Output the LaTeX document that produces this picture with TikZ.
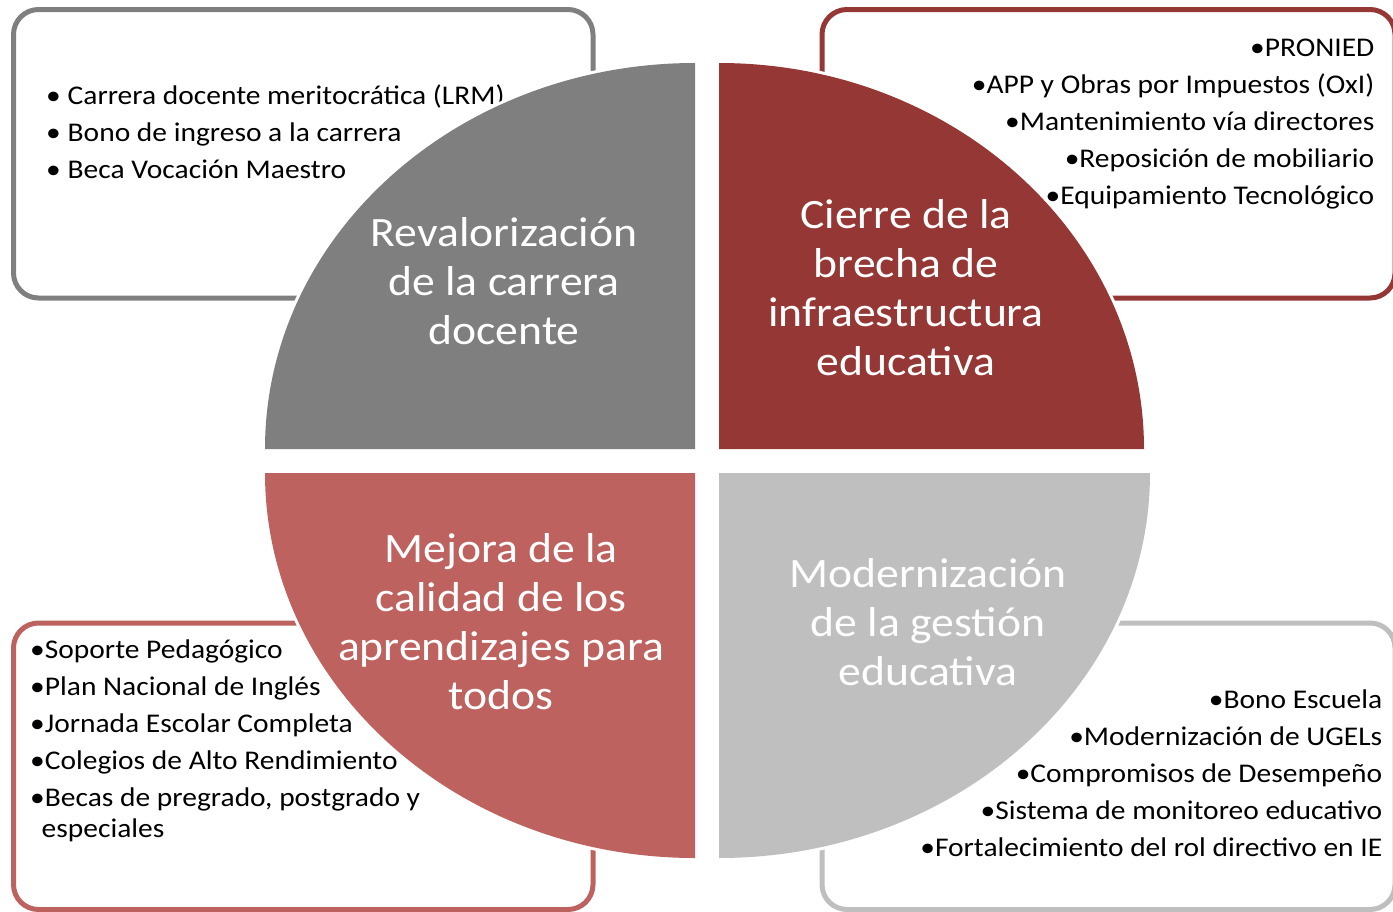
\documentclass[tikz,border=0pt]{standalone}
\usepackage{fontspec}
\setmainfont[FakeStretch=1.092]{Carlito}
\definecolor{cgray}{HTML}{7F7F7F}
\definecolor{cdred}{HTML}{953735}
\definecolor{clred}{HTML}{BE625F}
\definecolor{clgray}{HTML}{BFBFBF}
\begin{document}
\begin{tikzpicture}[x=1pt,y=-1pt,
  box/.style={draw, line width=5pt, rounded corners=25pt},
  halo/.style={fill=white, draw=white, line width=6pt},
  itemtext/.style={inner sep=0pt, font=\fontsize{27}{37}\selectfont, text=black},
  pietext/.style={inner sep=0pt, text=white, font=\fontsize{41.8}{49}\selectfont}]
\useasboundingbox (0,0) rectangle (1393,911);
\clip (0,0) rectangle (1393,911);
% boxes
\draw[box, cgray]  (13.5,9.5) rectangle (593,298);
\draw[box, cdred]  (822,9.5) rectangle (1395,298);
\draw[box, clred]  (13.5,623) rectangle (593,909.5);
\draw[box, clgray] (822,623) rectangle (1395,909.5);
% box texts
\node[itemtext, anchor=base west] (tlitems) at (46,104.5) {\parbox[t]{600pt}{\raggedright
  \makebox[21.5pt][l]{•}Carrera docente meritocrática (LRM)\\
  \makebox[21.5pt][l]{•}Bono de ingreso a la carrera\\
  \makebox[21.5pt][l]{•}Beca Vocación Maestro}};
\node[itemtext, anchor=base east] (tritems) at (1374.5,56) {\parbox[t]{600pt}{\raggedleft
  •PRONIED\\
  •APP y Obras por Impuestos (OxI)\\
  •Mantenimiento vía directores\\
  •Reposición de mobiliario\\
  •Equipamiento Tecnológico}};
\node[itemtext, anchor=base west] (blitems) at (30,658) {\parbox[t]{600pt}{\raggedright
  •Soporte Pedagógico\\
  •Plan Nacional de Inglés\\
  •Jornada Escolar Completa\\
  •Colegios de Alto Rendimiento\\
  •Becas de pregrado, postgrado y\\[-6pt]
  \hspace*{11.5pt}especiales}};
\node[itemtext, anchor=base east] (britems) at (1382.5,708) {\parbox[t]{600pt}{\raggedleft
  •Bono Escuela\\
  •Modernización de UGELs\\
  •Compromisos de Desempeño\\
  •Sistema de monitoreo educativo\\
  •Fortalecimiento del rol directivo en IE}};
% pie halos
\path[halo] (695,449) -- (265,449) arc[start angle=180, end angle=270, x radius=430, y radius=386] -- cycle;
\path[halo] (719,449) -- (719,63) arc[start angle=270, end angle=360, x radius=425, y radius=386] -- cycle;
\path[halo] (695,473) -- (265,473) arc[start angle=180, end angle=90, x radius=430, y radius=385] -- cycle;
\path[halo] (719,473) -- (1150,473) arc[start angle=0, end angle=90, x radius=431, y radius=385] -- cycle;
% pies
\fill[cgray]  (695,449) -- (265,449) arc[start angle=180, end angle=270, x radius=430, y radius=386] -- cycle;
\fill[cdred]  (719,449) -- (719,63) arc[start angle=270, end angle=360, x radius=425, y radius=386] -- cycle;
\fill[clred]  (695,473) -- (265,473) arc[start angle=180, end angle=90, x radius=430, y radius=385] -- cycle;
\fill[clgray] (719,473) -- (1150,473) arc[start angle=0, end angle=90, x radius=431, y radius=385] -- cycle;
% pie texts
\node[pietext, anchor=base] (tlpie) at (504,246.7) {\parbox[t]{420pt}{\centering Revalorización\\de la carrera\\docente}};
\node[pietext, anchor=base] (trpie) at (906,228.5) {\parbox[t]{420pt}{\centering Cierre de la\\brecha de\\infraestructura\\educativa}};
\node[pietext, anchor=base] (blpie) at (501,562.5) {\parbox[t]{420pt}{\centering Mejora de la\\calidad de los\\aprendizajes para\\todos}};
\node[pietext, anchor=base] (brpie) at (928,587.5) {\parbox[t]{420pt}{\centering Modernización\\de la gestión\\educativa}};
\end{tikzpicture}
\end{document}
